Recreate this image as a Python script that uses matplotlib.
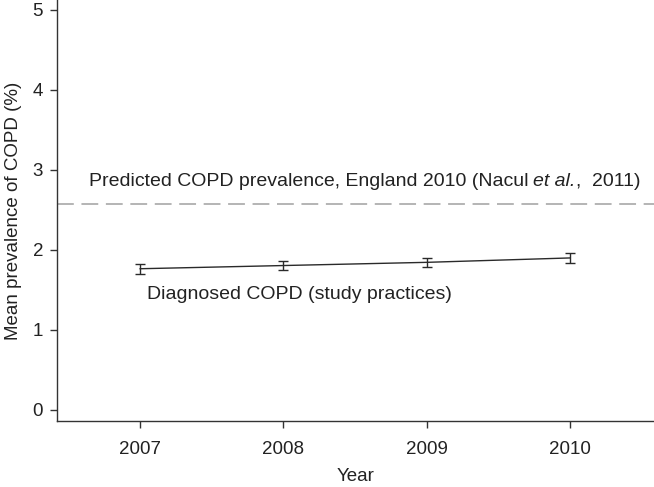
import matplotlib
matplotlib.use("Agg")
import matplotlib.pyplot as plt
from matplotlib.transforms import offset_copy

years = [2007, 2008, 2009, 2010]
prevalence = [1.765, 1.805, 1.845, 1.90]
err = [0.06, 0.06, 0.06, 0.06]
predicted = 2.575

plt.rcParams['font.family'] = ['Liberation Sans', 'DejaVu Sans']

txt = '#222222'
fs = 14

fig = plt.figure(figsize=(6.54, 4.87), dpi=100)
ax = fig.add_axes([0.0872, 0.1345, 0.9128, 0.8655])

ax.axhline(predicted, color='#a0a0a0', lw=1.1, dashes=(11, 5))
ax.errorbar(years, prevalence, yerr=err, color='#2a2a2a', lw=1.0,
            capsize=3.3, elinewidth=1.0, capthick=1.0)

# predicted label, built in pieces so "et al." can be italic
parts = [('Predicted COPD prevalence, England 2010 (Nacul ', 'normal'),
         ('et al.', 'italic'),
         (',  2011)', 'normal')]
renderer = fig.canvas.get_renderer()
trans = ax.transData
xpos = 2006.64
t = None
for s, style in parts:
    if t is None:
        t = ax.text(xpos, 2.80, s, fontsize=fs, color=txt, va='baseline',
                    ha='left', fontstyle=style)
    else:
        w = t.get_window_extent(renderer=renderer).width
        trans = offset_copy(trans, fig=fig, x=w, units='dots')
        t = ax.text(xpos, 2.80, s, fontsize=fs, color=txt, va='baseline',
                    ha='left', fontstyle=style, transform=trans)

ax.text(2007.05, 1.39, 'Diagnosed COPD (study practices)',
        fontsize=fs, color=txt, va='baseline', ha='left')

ax.set_xlim(2006.42, 2010.585)
ax.set_ylim(-0.145, 5.125)
ax.set_xticks(years)
ax.set_yticks(range(6))
ax.set_ylabel('Mean prevalence of COPD (%)', fontsize=13.5, color=txt, labelpad=8)
ax.set_xlabel('Year', fontsize=13.5, color=txt, labelpad=7)

for s in ['top', 'right']:
    ax.spines[s].set_visible(False)
for s in ['left', 'bottom']:
    ax.spines[s].set_color('#333333')
    ax.spines[s].set_linewidth(1.0)
ax.tick_params(axis='both', direction='out', length=5, width=1.0,
               color='#333333', labelsize=13.5, labelcolor=txt, pad=5)
ax.tick_params(axis='x', pad=9)

fig.savefig('out.png', dpi=100)
